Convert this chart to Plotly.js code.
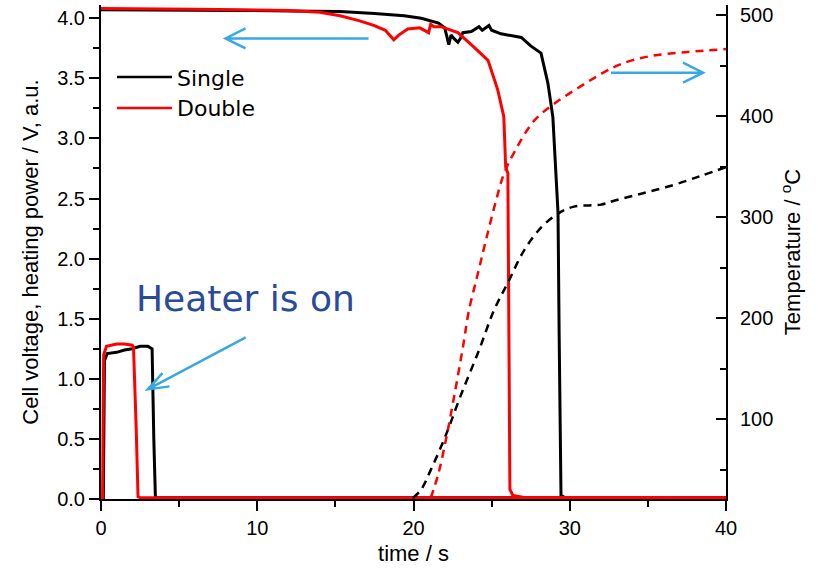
<!DOCTYPE html>
<html>
<head>
<meta charset="utf-8">
<script src="https://cdn.plot.ly/plotly-3.0.1.min.js"></script>
<style>
html,body{margin:0;padding:0;background:#fff;}
#chart{width:819px;height:574px;}
</style>
</head>
<body>
<div id="chart"></div>
<script>
// ---- Data ----
// Cell voltage, Single
const tVoltSingle = [0, 3, 6, 9, 12, 15.3, 17.5, 19.4, 20.5, 21.6, 21.8, 22.0, 22.26, 22.4, 22.6, 22.84, 23.0, 23.16, 23.7, 24.19, 24.4, 24.83, 25.0, 25.6, 26.9, 27.5, 28.16, 28.6, 28.92, 29.11, 29.25, 29.32, 29.38, 29.44, 29.7, 40];
const vVoltSingle = [4.07, 4.07, 4.07, 4.065, 4.06, 4.055, 4.04, 4.02, 4.0, 3.96, 3.94, 3.92, 3.78, 3.86, 3.83, 3.80, 3.83, 3.88, 3.89, 3.93, 3.90, 3.94, 3.90, 3.87, 3.84, 3.77, 3.71, 3.46, 3.175, 2.76, 2.38, 1.38, 0.27, 0.03, 0.01, 0.01];
// Cell voltage, Double
const tVoltDouble = [0, 3, 6, 9, 12, 14, 15.3, 16.5, 17.46, 18.2, 18.5, 18.74, 19.06, 19.63, 20.4, 20.97, 21.1, 21.3, 21.75, 22.84, 23.87, 24.77, 25.4, 25.78, 25.9, 26.04, 26.1, 26.17, 26.36, 27, 40];
const vVoltDouble = [4.08, 4.08, 4.075, 4.07, 4.065, 4.05, 4.02, 3.98, 3.94, 3.90, 3.85, 3.82, 3.86, 3.91, 3.92, 3.88, 3.95, 3.93, 3.93, 3.88, 3.76, 3.65, 3.40, 3.18, 2.76, 2.71, 1.5, 0.08, 0.03, 0.015, 0.01];
// Heating power, Single
const tHeatSingle = [0, 0.15, 0.22, 0.4, 1, 1.5, 2, 2.5, 3.0, 3.27, 3.38, 3.48, 3.6, 40];
const vHeatSingle = [0, 0, 1.15, 1.21, 1.22, 1.24, 1.25, 1.27, 1.27, 1.25, 0.5, 0.02, 0.01, 0.01];
// Heating power, Double
const tHeatDouble = [0, 0.1, 0.17, 0.35, 1, 1.5, 2.0, 2.08, 2.25, 2.37, 2.5, 40];
const vHeatDouble = [0, 0, 1.2, 1.27, 1.29, 1.29, 1.28, 1.26, 0.6, 0.02, 0.01, 0.01];
// Temperature, Single (right axis)
const tTempSingle = [19.96, 20.47, 21.1, 22.07, 23.03, 24.19, 25.15, 26.11, 27.07, 28.16, 29.25, 30.27, 32.0, 32.84, 34.57, 36.49, 38.41, 40];
const vTempSingle = [22, 29.9, 49.6, 84.2, 123.7, 168.2, 207.7, 237.3, 266.9, 289.6, 303.5, 310.4, 312.4, 316.3, 323.2, 331.1, 341, 349.4];
// Temperature, Double (right axis)
const tTempDouble = [21.1, 21.57, 22.07, 22.58, 23.16, 23.55, 24.12, 24.63, 25.28, 25.79, 26.43, 27.71, 28.99, 30.53, 32.0, 33.28, 35.2, 37.58, 40];
const vTempDouble = [22, 44.7, 79.3, 120.8, 171.1, 207.7, 244.2, 276.8, 316.3, 343, 363.7, 395.3, 412.1, 427.9, 441.7, 451.6, 459.5, 463.5, 466.4];

const seriesNames = ['Single', 'Double'];
const annoText = 'Heater is on';
const xTitle = 'time / s';
const yTitle = 'Cell voltage, heating power / V, a.u.';
const y2Title = 'Temperature / <sup>o</sup>C';

// ---- Styles ----
const BLACK = '#000000', RED = '#ff0000', BLUE = '#3aa8e0', DARKBLUE = '#2a4a9a';
const LW = 3;
const DLW = 2.5;
const DASH = '8px,6px';

const traces = [
  {x: tHeatSingle, y: vHeatSingle, mode: 'lines', line: {color: BLACK, width: LW}, showlegend: false, hoverinfo: 'skip'},
  {x: tVoltSingle, y: vVoltSingle, mode: 'lines', name: seriesNames[0], line: {color: BLACK, width: LW}, showlegend: false},
  {x: tHeatDouble, y: vHeatDouble, mode: 'lines', line: {color: RED, width: LW}, showlegend: false, hoverinfo: 'skip'},
  {x: tVoltDouble, y: vVoltDouble, mode: 'lines', name: seriesNames[1], line: {color: RED, width: LW}, showlegend: false},
  {x: tTempSingle, y: vTempSingle, yaxis: 'y2', mode: 'lines', line: {color: BLACK, width: DLW, dash: DASH, shape: 'spline'}, showlegend: false},
  {x: tTempDouble, y: vTempDouble, yaxis: 'y2', mode: 'lines', line: {color: RED, width: DLW, dash: DASH, shape: 'spline'}, showlegend: false}
];

const tickFont = {family: 'Liberation Sans, Arial, sans-serif', size: 20, color: '#000'};
const titleFont = {family: 'Liberation Sans, Arial, sans-serif', size: 22, color: '#000'};
const legendFont = {family: 'DejaVu Sans, Verdana, sans-serif', size: 22, color: '#000'};

function arrowShape(xa, ya, path) {
  return {type: 'path', xref: 'x', yref: 'y', xsizemode: 'pixel', ysizemode: 'pixel',
          xanchor: xa, yanchor: ya, path: path, line: {color: BLUE, width: 2.5}};
}
function legendLine(y, color) {
  return {type: 'line', xref: 'paper', yref: 'paper', x0: 0.0256, x1: 0.1136, y0: y, y1: y,
          line: {color: color, width: 2.5}};
}
function legendText(y, text) {
  return {xref: 'paper', yref: 'paper', x: 0.1184, y: y, xanchor: 'left', yanchor: 'middle',
          text: text, showarrow: false, font: legendFont};
}

const layout = {
  width: 819, height: 574,
  margin: {l: 101, r: 93, t: 5, b: 75, pad: 0},
  paper_bgcolor: '#fff', plot_bgcolor: '#fff',
  showlegend: false,
  xaxis: {range: [0, 40], dtick: 10, tick0: 0, showgrid: false, zeroline: false,
          showline: true, linecolor: '#000', linewidth: 2, ticks: 'outside', ticklen: 10, tickwidth: 2, tickcolor: '#000',
          minor: {dtick: 5, ticks: 'outside', ticklen: 6, tickwidth: 2, tickcolor: '#000', showgrid: false},
          tickfont: tickFont, title: {text: xTitle, font: titleFont, standoff: 8}, fixedrange: true},
  yaxis: {range: [0, 4.11], dtick: 0.5, tick0: 0, tickformat: '.1f', showgrid: false, zeroline: false,
          showline: true, linecolor: '#000', linewidth: 2, ticks: 'outside', ticklen: 10, tickwidth: 2, tickcolor: '#000',
          minor: {dtick: 0.25, ticks: 'outside', ticklen: 6, tickwidth: 2, tickcolor: '#000', showgrid: false},
          tickfont: tickFont, title: {text: yTitle, font: titleFont, standoff: 12}, fixedrange: true},
  yaxis2: {overlaying: 'y', side: 'right', range: [21, 510], tickvals: [100, 200, 300, 400, 500],
           showgrid: false, zeroline: false, showline: true, linecolor: '#000', linewidth: 2,
           ticks: 'inside', ticklen: 10, tickwidth: 2, tickcolor: '#000', ticklabelstandoff: 8,
           minor: {tickvals: [50, 150, 250, 350, 450], ticks: 'inside', ticklen: 6, tickwidth: 2, tickcolor: '#000', showgrid: false},
           tickfont: tickFont, title: {text: y2Title, font: titleFont, standoff: 12}, fixedrange: true},
  annotations: [
    {x: 9.25, y: 1.67, xref: 'x', yref: 'y', text: annoText, showarrow: false,
     font: {family: 'DejaVu Sans, Verdana, sans-serif', size: 36, color: DARKBLUE}, xanchor: 'center', yanchor: 'middle'},
    legendText(0.852, seriesNames[0]),
    legendText(0.7895, seriesNames[1])
  ],
  shapes: [
    legendLine(0.854, BLACK),
    legendLine(0.7915, RED),
    arrowShape(7.97, 3.832, 'M143,0 L0,0 M20,10 L0,0 L20,-10'),
    arrowShape(38.53, 3.547, 'M-92,0 L0,0 M-20,10 L0,0 L-20,-10'),
    arrowShape(2.99, 0.912, 'M98,52 L0,0 M14.7,16.3 L0,0 L21.8,3')
  ]
};

Plotly.newPlot('chart', traces, layout, {displayModeBar: false, staticPlot: true});
</script>
</body>
</html>
